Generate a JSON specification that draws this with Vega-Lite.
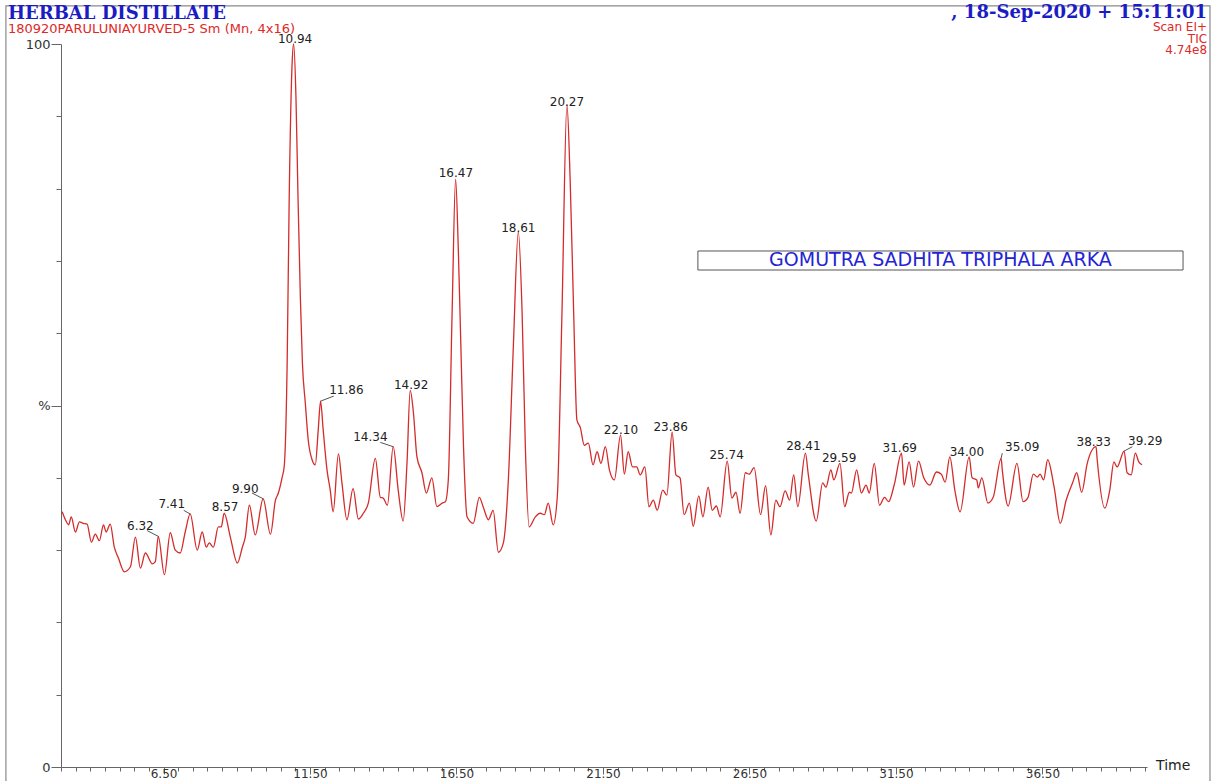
{
  "$schema": "https://vega.github.io/schema/vega-lite/v6.json",
  "width": 1086,
  "height": 723,
  "autosize": {"type": "none"},
  "padding": {"left": 61, "top": 44, "right": 66, "bottom": 14},
  "background": "white",
  "config": {"view": {"stroke": null}, "font": "DejaVu Sans"},
  "layer": [
    {
      "data": {"values": [
        {"t":3.04,"p":35.3},{"t":3.15,"p":34.2},{"t":3.26,"p":33.5},{"t":3.35,"p":34.6},{"t":3.49,"p":32.5},{"t":3.63,"p":33.9},{"t":3.76,"p":33.7},{"t":3.89,"p":33.6},{"t":4.04,"p":31.1},{"t":4.17,"p":32.2},{"t":4.31,"p":31.3},{"t":4.45,"p":33.5},{"t":4.54,"p":32.5},{"t":4.68,"p":33.6},{"t":4.82,"p":30.4},{"t":4.96,"p":28.9},{"t":5.16,"p":27.0},{"t":5.37,"p":27.7},{"t":5.54,"p":31.8},{"t":5.71,"p":27.5},{"t":5.88,"p":29.6},{"t":6.12,"p":28.1},{"t":6.22,"p":28.4},{"t":6.32,"p":31.9},{"t":6.53,"p":26.6},{"t":6.73,"p":32.4},{"t":6.90,"p":30.0},{"t":7.07,"p":29.6},{"t":7.24,"p":32.5},{"t":7.41,"p":35.0},{"t":7.65,"p":30.0},{"t":7.82,"p":32.5},{"t":7.96,"p":30.4},{"t":8.06,"p":31.0},{"t":8.20,"p":30.4},{"t":8.37,"p":33.2},{"t":8.47,"p":33.2},{"t":8.57,"p":35.1},{"t":8.78,"p":31.8},{"t":9.02,"p":28.2},{"t":9.19,"p":30.4},{"t":9.29,"p":31.8},{"t":9.43,"p":36.2},{"t":9.63,"p":32.1},{"t":9.90,"p":37.1},{"t":10.15,"p":32.2},{"t":10.32,"p":36.9},{"t":10.42,"p":37.9},{"t":10.55,"p":40.1},{"t":10.62,"p":41.6},{"t":10.72,"p":55.9},{"t":10.79,"p":78.8},{"t":10.89,"p":97.4},{"t":10.94,"p":100.0},{"t":11.02,"p":92.7},{"t":11.09,"p":78.8},{"t":11.17,"p":65.0},{"t":11.24,"p":55.9},{"t":11.34,"p":50.3},{"t":11.44,"p":45.2},{"t":11.57,"p":42.5},{"t":11.68,"p":41.8},{"t":11.78,"p":46.6},{"t":11.86,"p":50.6},{"t":11.95,"p":46.6},{"t":12.08,"p":41.1},{"t":12.19,"p":38.3},{"t":12.29,"p":35.3},{"t":12.47,"p":43.3},{"t":12.59,"p":39.3},{"t":12.76,"p":34.2},{"t":12.97,"p":38.5},{"t":13.15,"p":34.3},{"t":13.32,"p":35.1},{"t":13.49,"p":36.5},{"t":13.73,"p":42.7},{"t":13.90,"p":37.3},{"t":14.00,"p":37.2},{"t":14.14,"p":36.2},{"t":14.34,"p":44.3},{"t":14.51,"p":38.3},{"t":14.68,"p":34.0},{"t":14.81,"p":42.0},{"t":14.92,"p":52.1},{"t":15.03,"p":49.0},{"t":15.15,"p":42.9},{"t":15.32,"p":40.7},{"t":15.47,"p":37.9},{"t":15.66,"p":40.0},{"t":15.83,"p":36.0},{"t":16.01,"p":36.5},{"t":16.12,"p":36.7},{"t":16.22,"p":39.7},{"t":16.35,"p":62.8},{"t":16.47,"p":81.3},{"t":16.56,"p":71.9},{"t":16.65,"p":58.1},{"t":16.74,"p":44.3},{"t":16.86,"p":34.6},{"t":17.07,"p":33.7},{"t":17.28,"p":37.3},{"t":17.41,"p":36.0},{"t":17.59,"p":34.2},{"t":17.75,"p":35.5},{"t":17.93,"p":29.7},{"t":18.10,"p":31.0},{"t":18.27,"p":39.7},{"t":18.44,"p":58.1},{"t":18.61,"p":74.0},{"t":18.74,"p":62.8},{"t":18.85,"p":44.3},{"t":18.98,"p":33.2},{"t":19.19,"p":34.6},{"t":19.36,"p":35.1},{"t":19.50,"p":34.9},{"t":19.63,"p":36.5},{"t":19.80,"p":33.5},{"t":19.94,"p":37.3},{"t":20.10,"p":62.8},{"t":20.27,"p":91.6},{"t":20.38,"p":81.2},{"t":20.50,"p":62.8},{"t":20.61,"p":48.0},{"t":20.73,"p":46.9},{"t":20.86,"p":44.5},{"t":21.00,"p":44.8},{"t":21.16,"p":41.8},{"t":21.30,"p":43.6},{"t":21.43,"p":42.0},{"t":21.58,"p":44.3},{"t":21.72,"p":41.1},{"t":21.89,"p":39.7},{"t":22.10,"p":45.9},{"t":22.23,"p":40.5},{"t":22.36,"p":43.6},{"t":22.51,"p":41.5},{"t":22.65,"p":41.5},{"t":22.77,"p":40.4},{"t":22.93,"p":41.5},{"t":23.07,"p":36.0},{"t":23.22,"p":36.9},{"t":23.35,"p":35.5},{"t":23.54,"p":38.3},{"t":23.68,"p":37.6},{"t":23.86,"p":46.3},{"t":23.99,"p":40.4},{"t":24.13,"p":40.0},{"t":24.27,"p":34.9},{"t":24.45,"p":36.5},{"t":24.58,"p":33.3},{"t":24.77,"p":37.5},{"t":24.91,"p":34.6},{"t":25.09,"p":38.7},{"t":25.23,"p":35.5},{"t":25.37,"p":36.1},{"t":25.50,"p":34.6},{"t":25.74,"p":42.3},{"t":25.90,"p":37.2},{"t":26.04,"p":38.0},{"t":26.18,"p":35.1},{"t":26.36,"p":40.7},{"t":26.49,"p":40.5},{"t":26.66,"p":41.4},{"t":26.88,"p":34.9},{"t":27.05,"p":38.9},{"t":27.23,"p":32.1},{"t":27.40,"p":36.9},{"t":27.54,"p":36.0},{"t":27.72,"p":38.2},{"t":27.87,"p":36.9},{"t":28.01,"p":40.4},{"t":28.15,"p":36.0},{"t":28.41,"p":43.4},{"t":28.51,"p":40.4},{"t":28.78,"p":34.0},{"t":29.00,"p":39.3},{"t":29.11,"p":38.7},{"t":29.28,"p":41.1},{"t":29.38,"p":39.7},{"t":29.59,"p":42.0},{"t":29.75,"p":36.0},{"t":29.91,"p":38.0},{"t":29.98,"p":37.9},{"t":30.16,"p":41.1},{"t":30.32,"p":37.9},{"t":30.48,"p":39.0},{"t":30.59,"p":37.9},{"t":30.76,"p":42.0},{"t":30.94,"p":36.2},{"t":31.11,"p":37.3},{"t":31.25,"p":36.7},{"t":31.44,"p":39.0},{"t":31.69,"p":43.4},{"t":31.78,"p":39.0},{"t":31.95,"p":42.2},{"t":32.10,"p":38.7},{"t":32.27,"p":42.3},{"t":32.45,"p":40.0},{"t":32.66,"p":39.0},{"t":32.88,"p":40.8},{"t":33.05,"p":40.5},{"t":33.18,"p":39.4},{"t":33.34,"p":42.9},{"t":33.51,"p":38.3},{"t":33.69,"p":35.3},{"t":34.00,"p":42.9},{"t":34.10,"p":40.0},{"t":34.26,"p":39.7},{"t":34.31,"p":38.6},{"t":34.43,"p":40.0},{"t":34.64,"p":36.5},{"t":34.82,"p":37.3},{"t":35.09,"p":42.7},{"t":35.13,"p":41.1},{"t":35.33,"p":36.1},{"t":35.63,"p":42.0},{"t":35.84,"p":36.7},{"t":36.01,"p":37.3},{"t":36.19,"p":40.5},{"t":36.33,"p":40.1},{"t":36.42,"p":40.5},{"t":36.54,"p":39.7},{"t":36.68,"p":42.5},{"t":36.90,"p":38.7},{"t":37.11,"p":33.7},{"t":37.31,"p":36.9},{"t":37.53,"p":39.3},{"t":37.67,"p":40.7},{"t":37.84,"p":38.0},{"t":38.03,"p":42.0},{"t":38.33,"p":44.3},{"t":38.37,"p":42.5},{"t":38.63,"p":35.8},{"t":38.80,"p":38.3},{"t":38.94,"p":42.2},{"t":39.05,"p":41.5},{"t":39.29,"p":43.7},{"t":39.39,"p":40.7},{"t":39.53,"p":40.4},{"t":39.67,"p":43.4},{"t":39.79,"p":42.2},{"t":39.90,"p":41.8}
      ]},
      "mark": {"type": "line", "color": "#d42b2b", "strokeWidth": 1.3, "interpolate": "monotone"},
      "encoding": {
        "x": {
          "field": "t", "type": "quantitative",
          "scale": {"domain": [3, 40.07], "nice": false, "zero": false},
          "axis": {
            "title": null, "grid": false, "tickCount": 200,
            "values": [3,3.5,4,4.5,5,5.5,6,6.5,7,7.5,8,8.5,9,9.5,10,10.5,11,11.5,12,12.5,13,13.5,14,14.5,15,15.5,16,16.5,17,17.5,18,18.5,19,19.5,20,20.5,21,21.5,22,22.5,23,23.5,24,24.5,25,25.5,26,26.5,27,27.5,28,28.5,29,29.5,30,30.5,31,31.5,32,32.5,33,33.5,34,34.5,35,35.5,36,36.5,37,37.5,38,38.5,39,39.5,40],
            "labelExpr": "(datum.value % 5 == 1.5) ? format(datum.value, '.2f') : ''",
            "labelFlush": false, "labelOverlap": false,
            "tickSize": {"condition": {"test": "datum.value % 5 == 1.5", "value": 7}, "value": 4},
            "labelPadding": 3, "labelBaseline": "alphabetic",
            "labelFont": "DejaVu Sans", "labelFontSize": 12, "labelColor": "#333333",
            "domainColor": "#666666", "tickColor": "#666666", "domainWidth": 1, "tickWidth": 1
          }
        },
        "y": {
          "field": "p", "type": "quantitative",
          "scale": {"domain": [0, 100], "nice": false, "zero": false},
          "axis": {
            "title": null, "grid": false, "tickCount": 50,
            "values": [0,10,20,30,40,50,60,70,80,90,100],
            "labelExpr": "datum.value == 50 ? '%' : (datum.value % 100 == 0 ? datum.label : '')",
            "labelFlush": false, "labelOverlap": false,
            "tickSize": {"condition": {"test": "datum.value % 50 == 0", "value": 10}, "value": 5},
            "labelPadding": 1,
            "labelFont": "DejaVu Sans", "labelFontSize": 13, "labelColor": "#333333",
            "domainColor": "#666666", "tickColor": "#666666", "domainWidth": 1, "tickWidth": 1
          }
        }
      }
    },
    {
      "data": {"values": [{"x1": 1.12, "x2": 42.22, "y1": 105.26, "y2": -3}]},
      "mark": {"type": "rect", "filled": false, "color": "#8a8a8a", "strokeWidth": 1.2, "clip": false},
      "encoding": {
        "x": {"field": "x1", "type": "quantitative"},
        "x2": {"field": "x2"},
        "y": {"field": "y1", "type": "quantitative"},
        "y2": {"field": "y2"}
      }
    },
    {
      "data": {"values": [{"x1": 24.74, "x2": 41.3, "y1": 71.37, "y2": 68.74}]},
      "mark": {"type": "rect", "filled": false, "color": "#555555", "strokeWidth": 1, "clip": false},
      "encoding": {
        "x": {"field": "x1", "type": "quantitative"},
        "x2": {"field": "x2"},
        "y": {"field": "y1", "type": "quantitative"},
        "y2": {"field": "y2"}
      }
    },
    {
      "data": {"values": [
        {"pt": 6.32, "pp": 31.9, "lt": 5.94, "lp": 32.7},
        {"pt": 7.41, "pp": 35.0, "lt": 7.19, "lp": 35.5},
        {"pt": 9.90, "pp": 37.1, "lt": 9.52, "lp": 37.9},
        {"pt": 11.86, "pp": 50.6, "lt": 12.31, "lp": 51.3},
        {"pt": 14.34, "pp": 44.3, "lt": 13.90, "lp": 44.9},
        {"pt": 35.09, "pp": 42.7, "lt": 35.13, "lp": 43.4},
        {"pt": 39.29, "pp": 43.7, "lt": 39.57, "lp": 44.3}
      ]},
      "mark": {"type": "rule", "color": "#555555", "strokeWidth": 1},
      "encoding": {
        "x": {"field": "pt", "type": "quantitative"},
        "y": {"field": "pp", "type": "quantitative"},
        "x2": {"field": "lt"},
        "y2": {"field": "lp"}
      }
    },
    {
      "data": {"values": [
        {"label": "6.32", "t": 5.71, "p": 33.3},
        {"label": "7.41", "t": 6.78, "p": 36.4},
        {"label": "8.57", "t": 8.60, "p": 35.9},
        {"label": "9.90", "t": 9.29, "p": 38.5},
        {"label": "10.94", "t": 10.99, "p": 100.69},
        {"label": "11.86", "t": 12.74, "p": 52.1},
        {"label": "14.34", "t": 13.56, "p": 45.6},
        {"label": "14.92", "t": 14.95, "p": 52.9},
        {"label": "16.47", "t": 16.48, "p": 82.1},
        {"label": "18.61", "t": 18.61, "p": 74.6},
        {"label": "20.27", "t": 20.27, "p": 92.0},
        {"label": "22.10", "t": 22.11, "p": 46.6},
        {"label": "23.86", "t": 23.81, "p": 47.0},
        {"label": "25.74", "t": 25.72, "p": 43.1},
        {"label": "28.41", "t": 28.34, "p": 44.4},
        {"label": "29.59", "t": 29.56, "p": 42.8},
        {"label": "31.69", "t": 31.63, "p": 44.1},
        {"label": "34.00", "t": 33.92, "p": 43.6},
        {"label": "35.09", "t": 35.81, "p": 44.3},
        {"label": "38.33", "t": 38.25, "p": 44.9},
        {"label": "39.29", "t": 40.01, "p": 45.1}
      ]},
      "mark": {"type": "text", "font": "DejaVu Sans", "fontSize": 12, "color": "#222222", "align": "center", "baseline": "middle", "clip": false},
      "encoding": {
        "x": {"field": "t", "type": "quantitative"},
        "y": {"field": "p", "type": "quantitative"},
        "text": {"field": "label"}
      }
    },
    {
      "data": {"values": [{"label": "HERBAL DISTILLATE", "t": 1.19, "p": 103.39}]},
      "mark": {"type": "text", "font": "DejaVu Serif", "fontWeight": "bold", "fontSize": 18, "color": "#1c1cc4", "align": "left", "baseline": "alphabetic", "clip": false},
      "encoding": {
        "x": {"field": "t", "type": "quantitative"},
        "y": {"field": "p", "type": "quantitative"},
        "text": {"field": "label"}
      }
    },
    {
      "data": {"values": [{"label": "180920PARULUNIAYURVED-5 Sm (Mn, 4x16)", "t": 1.19, "p": 101.52}]},
      "mark": {"type": "text", "font": "DejaVu Sans", "fontSize": 13, "color": "#e02828", "align": "left", "baseline": "alphabetic", "clip": false},
      "encoding": {
        "x": {"field": "t", "type": "quantitative"},
        "y": {"field": "p", "type": "quantitative"},
        "text": {"field": "label"}
      }
    },
    {
      "data": {"values": [{"label": ", 18-Sep-2020 + 15:11:01", "t": 42.12, "p": 103.55}]},
      "mark": {"type": "text", "font": "DejaVu Serif", "fontWeight": "bold", "fontSize": 18, "color": "#1c1cc4", "align": "right", "baseline": "alphabetic", "clip": false},
      "encoding": {
        "x": {"field": "t", "type": "quantitative"},
        "y": {"field": "p", "type": "quantitative"},
        "text": {"field": "label"}
      }
    },
    {
      "data": {"values": [
        {"label": "Scan EI+", "t": 42.12, "p": 101.8},
        {"label": "TIC", "t": 42.12, "p": 100.18},
        {"label": "4.74e8", "t": 42.12, "p": 98.58}
      ]},
      "mark": {"type": "text", "font": "DejaVu Sans", "fontSize": 12, "color": "#e02828", "align": "right", "baseline": "alphabetic", "clip": false},
      "encoding": {
        "x": {"field": "t", "type": "quantitative"},
        "y": {"field": "p", "type": "quantitative"},
        "text": {"field": "label"}
      }
    },
    {
      "data": {"values": [{"label": "GOMUTRA SADHITA TRIPHALA ARKA", "t": 33.02, "p": 70.06}]},
      "mark": {"type": "text", "font": "DejaVu Sans", "fontSize": 19, "color": "#2424d4", "align": "center", "baseline": "middle", "clip": false},
      "encoding": {
        "x": {"field": "t", "type": "quantitative"},
        "y": {"field": "p", "type": "quantitative"},
        "text": {"field": "label"}
      }
    },
    {
      "data": {"values": [{"label": "Time", "t": 40.38, "p": 0.14}]},
      "mark": {"type": "text", "font": "DejaVu Sans", "fontSize": 14, "color": "#222222", "align": "left", "baseline": "middle", "clip": false},
      "encoding": {
        "x": {"field": "t", "type": "quantitative"},
        "y": {"field": "p", "type": "quantitative"},
        "text": {"field": "label"}
      }
    }
  ]
}
